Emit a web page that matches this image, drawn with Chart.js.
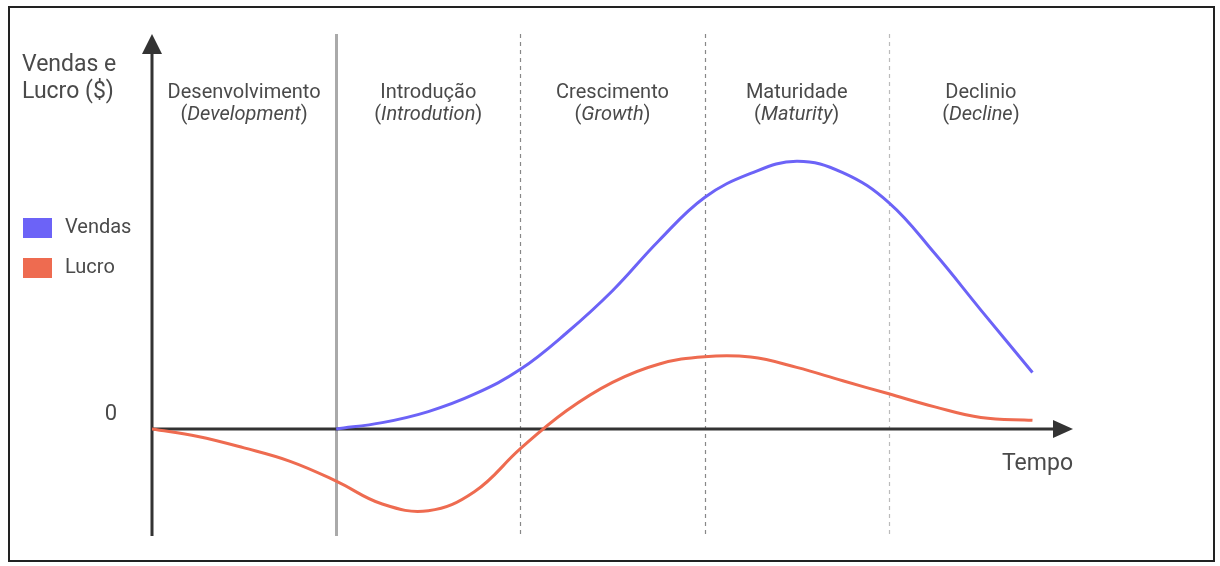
<!DOCTYPE html>
<html lang="pt">
<head>
<meta charset="UTF-8">
<title>Ciclo de vida do produto</title>
<script src="https://cdn.jsdelivr.net/npm/chart.js"></script>
<style>
    html, body {
        margin: 0;
        padding: 0;
        background: #fff;
    }
    body {
        width: 1220px;
        height: 566px;
        position: relative;
        overflow: hidden;
        font-family: Roboto, Arial, sans-serif;
    }
    #moldura {
        position: absolute;
        left: 8px;
        top: 6px;
        width: 1203px;
        height: 552px;
        border: 2px solid #222;
    }
    #grafico {
        position: absolute;
        left: 0;
        top: 0;
    }
</style>
</head>
<body>
<div id="moldura"></div>
<canvas id="grafico" width="1220" height="566"></canvas>

<script>
    // Estágios do ciclo de vida (um por unidade de tempo)
    const estagios = ['Desenvolvimento', 'Introdução', 'Crescimento', 'Maturidade', 'Declinio'];
    const estagiosEn = ['Development', 'Introdution', 'Growth', 'Maturity', 'Decline'];
    const limites = [1, 2, 3, 4];

    // Vendas
    const tempoVendas = [1.0, 1.25, 1.5, 1.75, 2.0, 2.25, 2.5, 2.75, 3.0, 3.25, 3.5, 3.75, 4.0, 4.25, 4.5, 4.78];
    const vendas = [0, 1.6, 4.4, 8.8, 15.1, 24.3, 35.0, 47.6, 58.6, 64.7, 67.8, 64.9, 57.3, 44.4, 30.1, 14.3];

    // Lucro
    const tempoLucro = [0, 0.25, 0.5, 0.75, 1.0, 1.25, 1.5, 1.75, 2.0, 2.25, 2.5, 2.75, 3.0, 3.25, 3.5, 3.75, 4.0, 4.25, 4.5, 4.78];
    const lucro = [0, -1.9, -4.8, -8.2, -13.2, -19.0, -20.7, -15.9, -5.0, 4.6, 11.8, 16.4, 18.3, 18.2, 15.6, 12.2, 8.9, 5.6, 2.9, 2.2];

    const corVendas = '#6c63f7';
    const corLucro = '#ee6b50';
    const corTexto = '#4a4a4a';

    function pontos(xs, ys) {
        return xs.map((x, i) => ({ x: x, y: ys[i] }));
    }

    function seta(ctx, pts) {
        ctx.beginPath();
        ctx.moveTo(pts[0][0], pts[0][1]);
        ctx.lineTo(pts[1][0], pts[1][1]);
        ctx.lineTo(pts[2][0], pts[2][1]);
        ctx.closePath();
        ctx.fill();
    }

    // texto "(Palavra)" com a palavra em itálico
    function textoParenteses(ctx, palavra, cx, cy, tam) {
        const normal = tam + 'px Roboto, Arial, sans-serif';
        const italico = 'italic ' + normal;
        ctx.font = normal;
        const wp = ctx.measureText('(').width;
        const wf = ctx.measureText(')').width;
        ctx.font = italico;
        const wm = ctx.measureText(palavra).width;
        let x = cx - (wp + wm + wf) / 2;
        ctx.textAlign = 'left';
        ctx.font = normal;
        ctx.fillText('(', x, cy);
        x += wp;
        ctx.font = italico;
        ctx.fillText(palavra, x, cy);
        x += wm;
        ctx.font = normal;
        ctx.fillText(')', x, cy);
    }

    const desenho = {
        id: 'desenho',
        beforeDatasetsDraw(chart) {
            const { ctx, chartArea, scales } = chart;
            const { left, right, top, bottom } = chartArea;
            const x = scales.x, y = scales.y;
            const y0 = y.getPixelForValue(0);
            ctx.save();

            // divisões entre estágios
            limites.forEach((b, i) => {
                const px = Math.round(x.getPixelForValue(b)) + 0.5;
                ctx.beginPath();
                if (i === 0) {
                    ctx.strokeStyle = '#aaa';
                    ctx.lineWidth = 3;
                    ctx.setLineDash([]);
                } else {
                    ctx.strokeStyle = i === 3 ? '#bbb' : '#888';
                    ctx.lineWidth = 1.2;
                    ctx.setLineDash([4, 4]);
                }
                ctx.moveTo(px, top);
                ctx.lineTo(px, bottom);
                ctx.stroke();
            });
            ctx.setLineDash([]);

            // eixos
            ctx.strokeStyle = '#333';
            ctx.fillStyle = '#333';
            ctx.lineWidth = 3;
            ctx.beginPath();
            ctx.moveTo(left, y0);
            ctx.lineTo(right - 18, y0);
            ctx.stroke();
            seta(ctx, [[right, y0], [right - 20, y0 - 9], [right - 20, y0 + 9]]);

            ctx.beginPath();
            ctx.moveTo(left, bottom);
            ctx.lineTo(left, top + 18);
            ctx.stroke();
            seta(ctx, [[left, top], [left - 10, top + 20], [left + 10, top + 20]]);

            // rótulos dos estágios
            ctx.fillStyle = corTexto;
            ctx.textBaseline = 'middle';
            estagios.forEach((nome, i) => {
                const cx = x.getPixelForValue(i + 0.5);
                ctx.font = '20px Roboto, Arial, sans-serif';
                ctx.textAlign = 'center';
                ctx.fillText(nome, cx, top + 59);
                textoParenteses(ctx, estagiosEn[i], cx, top + 81, 20);
            });

            // títulos dos eixos
            ctx.font = '23px Roboto, Arial, sans-serif';
            ctx.textAlign = 'left';
            ctx.fillText('Vendas e', 22, 65);
            ctx.fillText('Lucro ($)', 22, 92);
            ctx.font = '22px Roboto, Arial, sans-serif';
            ctx.textAlign = 'center';
            ctx.fillText('0', 111, y0 - 14);
            ctx.font = '23px Roboto, Arial, sans-serif';
            ctx.textAlign = 'right';
            ctx.fillText('Tempo', right, y0 + 35);

            // legenda
            const itens = [['Vendas', corVendas], ['Lucro', corLucro]];
            itens.forEach((it, i) => {
                const cy = 228 + i * 40;
                ctx.fillStyle = it[1];
                ctx.fillRect(23, cy - 10, 29, 20);
                ctx.fillStyle = corTexto;
                ctx.font = '20px Roboto, Arial, sans-serif';
                ctx.textAlign = 'left';
                ctx.fillText(it[0], 65, cy);
            });

            ctx.restore();
        }
    };

    new Chart(document.getElementById('grafico').getContext('2d'), {
        type: 'line',
        data: {
            datasets: [{
                label: 'Lucro',
                data: pontos(tempoLucro, lucro),
                borderColor: corLucro,
                borderWidth: 3,
                pointRadius: 0,
                fill: false,
                tension: 0.4
            }, {
                label: 'Vendas',
                data: pontos(tempoVendas, vendas),
                borderColor: corVendas,
                borderWidth: 3,
                pointRadius: 0,
                fill: false,
                tension: 0.4
            }]
        },
        options: {
            responsive: false,
            animation: false,
            devicePixelRatio: 1,
            layout: {
                padding: { left: 152, right: 147, top: 34, bottom: 30 }
            },
            plugins: {
                legend: { display: false },
                tooltip: { enabled: false }
            },
            scales: {
                x: { type: 'linear', min: 0, max: 5, display: false },
                y: { type: 'linear', min: -27.1, max: 100, display: false }
            }
        },
        plugins: [desenho]
    });
</script>
</body>
</html>
